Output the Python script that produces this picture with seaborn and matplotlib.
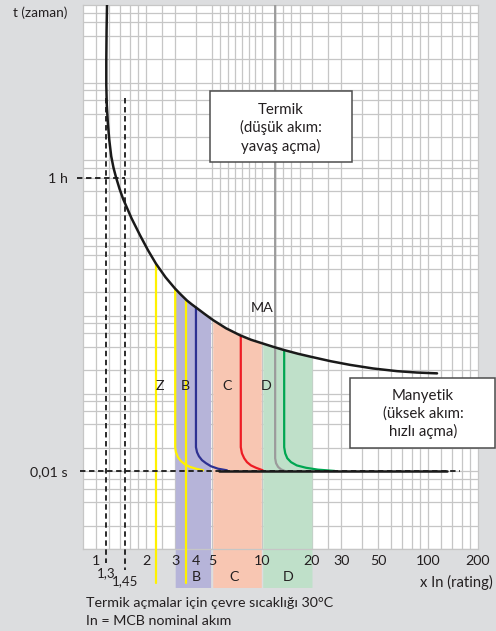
import numpy as np
import pandas as pd
import matplotlib
matplotlib.use("Agg")
import matplotlib.pyplot as plt
import matplotlib.transforms as mtransforms
from matplotlib.patches import Rectangle
import seaborn as sns

# ---------------- data (x = multiples of In, t = relative time, 1 = 0,01 s) -------------
ma_x = [1.165, 1.158, 1.1535, 1.1535, 1.1616, 1.1778, 1.2026, 1.2349, 1.2746, 1.3196,
        1.3855, 1.4544, 1.6361, 1.8413, 2.0571, 2.2984, 2.6231, 2.9923, 3.2521, 3.534,
        3.7874, 4.0597, 4.5354, 5.0683, 6.07, 7.3711, 8.5849, 10.139, 11.648, 13.383,
        16.479, 20.289, 26.04, 33.889, 46.648, 65.058, 85.849, 113.31]
ma_t = [9.94e5, 4.74e5, 1.948e5, 9.29e4, 5.13e4, 3.10e4, 1.82e4, 1.133e4, 8054, 6078,
        4323, 3215, 1804, 1090, 698.7, 468.3, 313.9, 224.6, 186.9, 157.3,
        139.8, 125.3, 104.9, 88.3, 69.25, 56.27, 49.25, 44.0, 40.03, 36.62,
        32.53, 29.33, 26.04, 23.41, 21.04, 19.43, 18.64, 18.2]

z_x = [2.3, 2.3]
z_t = [466, 0.036]
b_yellow_x = [3.0, 3.0, 3.03, 3.12, 3.25, 3.43, 3.68, 4.0, 4.41]
b_yellow_t = [222, 2.04, 1.76, 1.51, 1.35, 1.23, 1.14, 1.08, 1.03]
b_yellow2_x = [3.5, 3.5]
b_yellow2_t = [160, 0.036]
b_blue_x = [4.0, 4.0, 4.06, 4.17, 4.35, 4.6, 4.93, 5.43, 6.15]
b_blue_t = [128, 2.04, 1.76, 1.56, 1.39, 1.27, 1.16, 1.08, 1.03]
c_red_x = [7.45, 7.45, 7.57, 7.81, 8.12, 8.58, 9.2, 10.1]
c_red_t = [55.5, 2.04, 1.7, 1.47, 1.31, 1.19, 1.11, 1.03]
gray_x = [12, 12, 12.15, 12.5, 13.0, 13.7]
gray_t = [1e6, 1.47, 1.27, 1.14, 1.06, 1.01]
d_green_x = [13.6, 13.6, 13.8, 14.2, 14.96, 16.2, 18.4, 21.7, 27.4]
d_green_t = [36.2, 2.04, 1.7, 1.47, 1.31, 1.19, 1.11, 1.05, 1.01]

inst_x = [5.5, 130]          # solid 0,01 s line
inst_t = [1, 1]

zone_names = ["B", "C", "D"]
zone_lo = [3.0, 5.05, 10.1]
zone_hi = [4.9, 9.9, 20]
zone_bottom = 0.032

inner_labels = ["Z", "B", "C", "D"]
inner_label_x = [2.43, 3.47, 6.14, 10.66]
inner_label_t = [12.4, 12.4, 12.4, 12.4]
zone_label_x = [4.0, 6.8, 14.3]
zone_label_t = [0.043, 0.043, 0.043]

x_ticks = [1, 2, 3, 4, 5, 10, 20, 30, 50, 100, 200]
x_tick_labels = ["1", "2", "3", "4", "5", "10", "20", "30", "50", "100", "200"]
y_ticks = [1, 6000]
y_tick_labels = ["0,01 s", "1 h"]
marker_x = [1.15, 1.5]
marker_labels = ["1,3", "1,45"]
marker_bottom = [0.067, 0.053]
marker_top = 6.3e4

# ---------------- style ----------------
sns.set_theme(style="white")
plt.rcParams["font.family"] = ["Lato", "DejaVu Sans"]
TXT = "#231f20"
BG = "#dcdddf"
GRID = "#c6c6c6"
FS = 10.3

fig = plt.figure(figsize=(4.96, 6.31), dpi=100, facecolor=BG)
ax = fig.add_axes([83 / 496, 1 - 549 / 631, 395 / 496, 544 / 631])
ax.set_facecolor("white")
ax.set_xscale("log")
ax.set_yscale("log")
ax.set_xlim(0.835, 200)
ax.set_ylim(0.1, 1e6)

# grid (drawn manually, below the zones)
grid_x = [1, 1.2, 1.4, 1.6, 1.8, 2, 2.5, 3, 4, 5, 5.6, 6.2, 6.9, 7.6, 8.4, 9.1, 10, 12, 13.4,
          15, 17, 20, 25, 30, 40, 50, 60, 70, 80, 90, 100, 120, 140, 160, 180]
grid_y = [m * 10.0 ** k for k in range(-1, 6) for m in (1, 2, 4, 6, 8)]
ax.vlines(grid_x, 0.1, 1e6, colors=GRID, lw=0.9, zorder=0.5)
ax.hlines(grid_y, 0.835, 200, colors=GRID, lw=0.9, zorder=0.5)
for s in ax.spines.values():
    s.set_color(GRID)
    s.set_linewidth(0.9)

# zones (top edge follows the MA envelope)
zone_colors = ["#b6b4d9", "#f8c6b2", "#bfe0c9"]
mx = np.array(ma_x[4:])
mt = np.array(ma_t[4:])
for lo, hi, col in zip(zone_lo, zone_hi, zone_colors):
    inner = (mx > lo) & (mx < hi)
    xs = np.concatenate([[lo], mx[inner], [hi]])
    top = 10 ** np.interp(np.log10(xs), np.log10(mx), np.log10(mt))
    ax.fill_between(xs, zone_bottom, top, color=col, lw=0, zorder=1, clip_on=False)

# curves
lw = 1.6
kw = dict(sort=False, estimator=None, ax=ax)
sns.lineplot(x=z_x, y=z_t, color="#fff200", lw=lw, zorder=3, clip_on=False, **kw)
sns.lineplot(x=b_yellow2_x, y=b_yellow2_t, color="#fff200", lw=lw, zorder=3, clip_on=False, **kw)
sns.lineplot(x=b_yellow_x, y=b_yellow_t, color="#fff200", lw=lw, zorder=3, **kw)
sns.lineplot(x=b_blue_x, y=b_blue_t, color="#2e3192", lw=lw, zorder=3, **kw)
sns.lineplot(x=c_red_x, y=c_red_t, color="#ed1c24", lw=lw, zorder=3, **kw)
sns.lineplot(x=gray_x, y=gray_t, color="#9b9b9b", lw=lw, zorder=2.8, **kw)
sns.lineplot(x=d_green_x, y=d_green_t, color="#00a651", lw=lw, zorder=3, **kw)
sns.lineplot(x=inst_x, y=inst_t, color="#1a1a1a", lw=1.8, zorder=3.5, **kw)
sns.lineplot(x=ma_x, y=ma_t, color="#1a1a1a", lw=1.8, zorder=4, **kw)

# dashed reference lines
dash = (0, (3, 2))
ax.plot([0.77, 1.5], [6000, 6000], color="#1a1a1a", lw=1.3, ls=dash, clip_on=False, zorder=4)
ax.plot([0.80, 156], [1, 1], color="#1a1a1a", lw=1.3, ls=dash, clip_on=False, zorder=4)
for xv, yb in zip(marker_x, marker_bottom):
    ax.plot([xv, xv], [marker_top, yb], color="#1a1a1a", lw=1.3, ls=dash, clip_on=False,
            zorder=4)

# ticks
ax.set_xticks(x_ticks)
ax.set_xticklabels(x_tick_labels)
ax.set_yticks(y_ticks)
ax.set_yticklabels(y_tick_labels)
ax.minorticks_off()
ax.tick_params(axis="x", length=0, pad=4.5, labelsize=FS, labelcolor=TXT)
ax.tick_params(axis="y", length=0, pad=11, labelsize=FS, labelcolor=TXT)
ax.set_axisbelow(False)

trans = mtransforms.blended_transform_factory(ax.transData, ax.transAxes)
for xv, lab, yy in zip(marker_x, marker_labels, [-0.0441, -0.0588]):
    ax.text(xv, yy, lab, transform=trans, ha="center", va="center", fontsize=9.5, color=TXT)

for lab, xv, tv in zip(inner_labels, inner_label_x, inner_label_t):
    ax.text(xv, tv, lab, ha="center", va="center", fontsize=FS, color=TXT, zorder=6)
for lab, xv, tv in zip(zone_names, zone_label_x, zone_label_t):
    ax.text(xv, tv, lab, ha="center", va="center", fontsize=FS, color=TXT, zorder=6,
            clip_on=False)
ax.text(10, 125, "MA", ha="center", va="center", fontsize=FS, color=TXT, zorder=6)

# boxes
ax.add_patch(Rectangle((0.3215, 0.711), 0.681 - 0.3215, 0.842 - 0.711, transform=ax.transAxes,
                       facecolor="white", edgecolor="#4d4d4d", lw=1.1, zorder=7))
ax.text(0.501, 0.773, "Termik\n(düşük akım:\nyavaş açma)", transform=ax.transAxes,
        ha="center", va="center", fontsize=10.8, color=TXT, linespacing=1.3, zorder=8)
ax.add_patch(Rectangle((0.676, 0.1857), 1.043 - 0.676, 0.314 - 0.1857, transform=ax.transAxes,
                       facecolor="white", edgecolor="#4d4d4d", lw=1.1, zorder=7,
                       clip_on=False))
ax.text(0.861, 0.248, "Manyetik\n(üksek akım:\nhızlı açma)", transform=ax.transAxes,
        ha="center", va="center", fontsize=10.8, color=TXT, linespacing=1.3, zorder=8)

# figure texts
fig.text(67 / 496, 1 - 13 / 631, "t (zaman)", ha="right", va="center", fontsize=9.8, color=TXT)
fig.text(493 / 496, 1 - 582 / 631, "x In (rating)", ha="right", va="center", fontsize=10.6,
         color=TXT)
fig.text(86 / 496, 1 - 603 / 631, "Termik açmalar için çevre sıcaklığı 30°C", ha="left",
         va="center", fontsize=FS, color=TXT)
fig.text(86 / 496, 1 - 621 / 631, "In = MCB nominal akım", ha="left", va="center",
         fontsize=FS, color=TXT)

fig.savefig("out.png", dpi=100, facecolor=BG)
